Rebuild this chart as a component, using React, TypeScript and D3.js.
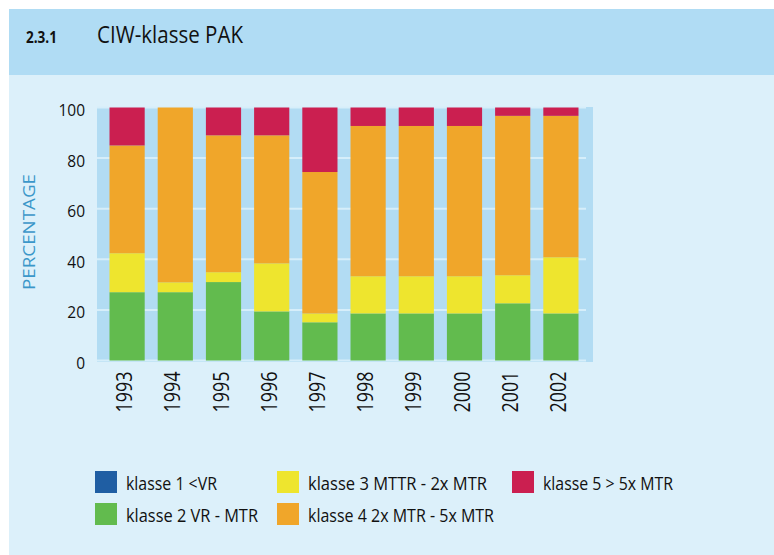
import React from "react";
import * as d3 from "d3";

const years = ["1993", "1994", "1995", "1996", "1997", "1998", "1999", "2000", "2001", "2002"];
const klasse1 = [0, 0, 0, 0, 0, 0, 0, 0, 0, 0];
const klasse2 = [27, 27, 31, 19.4, 15.1, 18.6, 18.6, 18.6, 22.6, 18.6];
const klasse3 = [15.4, 3.9, 3.9, 19, 3.5, 14.7, 14.7, 14.7, 11.1, 22.2];
const klasse4 = [42.6, 69.1, 54.1, 50.6, 55.9, 59.4, 59.4, 59.4, 63, 55.9];
const klasse5 = [15, 0, 11, 11, 25.5, 7.3, 7.3, 7.3, 3.3, 3.3];
const yTicks = [0, 20, 40, 60, 80, 100];

const seriesNames = ["klasse 1 <VR", "klasse 2 VR - MTR", "klasse 3 MTTR  - 2x MTR", "klasse 4 2x MTR - 5x MTR", "klasse 5 > 5x MTR"];
const seriesColors = ["#1f5ea3", "#62bb4e", "#eee52e", "#f0a62a", "#cb1f50"];
const seriesValues = [klasse1, klasse2, klasse3, klasse4, klasse5];

export default function App() {
  const W = 774, H = 555;
  const plotLeft = 97, plotRight = 593, plotTop = 107, plotBottom = 362;
  const y = d3.scaleLinear().domain([0, 100]).range([360.5, 107.5]);
  const x = d3.scaleBand().domain(years).range([103, 585]).paddingInner(0.27).paddingOuter(0.135);

  const rows = years.map((yr, i) => {
    const r: any = { year: yr };
    seriesValues.forEach((s, k) => (r["s" + k] = s[i]));
    return r;
  });
  const keys = seriesValues.map((_, k) => "s" + k);
  const stacked = d3.stack().keys(keys)(rows);

  const font = "'Open Sans', sans-serif";

  const legendPos = [
    { x: 95, y: 471, tl: 91 },
    { x: 95, y: 503, tl: 132 },
    { x: 277, y: 471, tl: 179 },
    { x: 277, y: 503, tl: 186 },
    { x: 512, y: 471, tl: 130 },
  ];

  return (
    <svg width={W} height={H} style={{ position: "absolute", left: 0, top: 0 }} fontFamily={font}>
      <rect x={0} y={0} width={W} height={H} fill="#ffffff" />
      <rect x={9} y={9} width={W - 9} height={H - 9} fill="#dcf0fa" />
      <rect x={9} y={9} width={W - 9} height={66} fill="#b0dcf4" />
      <text x={26} y={43} fontSize={16} fontWeight="bold" fill="#111" textLength={31} lengthAdjust="spacingAndGlyphs">2.3.1</text>
      <text x={97} y={43} fontSize={23} fill="#111" textLength={146} lengthAdjust="spacingAndGlyphs">CIW-klasse PAK</text>

      <rect x={plotLeft} y={plotTop} width={plotRight - plotLeft} height={plotBottom - plotTop} fill="#b2dcf3" />
      {yTicks.map((t) => (
        <line key={"g" + t} x1={plotLeft} x2={586} y1={y(t)} y2={y(t)} stroke="#d6eefa" strokeWidth={2} />
      ))}
      {stacked.map((layer, k) => (
        <g key={"l" + k} fill={seriesColors[k]}>
          {layer.map((d, i) => {
            const h = y(d[0]) - y(d[1]);
            if (h <= 0) return null;
            return <rect key={i} x={x(years[i])} y={y(d[1])} width={x.bandwidth()} height={h} />;
          })}
        </g>
      ))}
      {yTicks.map((t) => (
        <text key={"t" + t} x={85} y={y(t) + 3} dy="0.35em" textAnchor="end" fontSize={15.5} fill="#111">{t}</text>
      ))}
      <text transform={`translate(35,232) rotate(-90)`} textAnchor="middle" fontSize={17} fill="#3b97c9" textLength={116} lengthAdjust="spacingAndGlyphs">PERCENTAGE</text>
      {years.map((yr) => (
        <text key={"x" + yr} transform={`translate(${(x(yr) as number) + x.bandwidth() / 2 + 5},371.5) rotate(-90)`} textAnchor="end" fontSize={21} fill="#111" textLength={41} lengthAdjust="spacingAndGlyphs">{yr}</text>
      ))}
      {seriesNames.map((n, k) => (
        <g key={"lg" + k}>
          <rect x={legendPos[k].x} y={legendPos[k].y} width={22} height={22} fill={seriesColors[k]} />
          <text x={legendPos[k].x + 31} y={legendPos[k].y + 19} fontSize={18} fill="#111" textLength={legendPos[k].tl} lengthAdjust="spacingAndGlyphs">{n}</text>
        </g>
      ))}
    </svg>
  );
}
